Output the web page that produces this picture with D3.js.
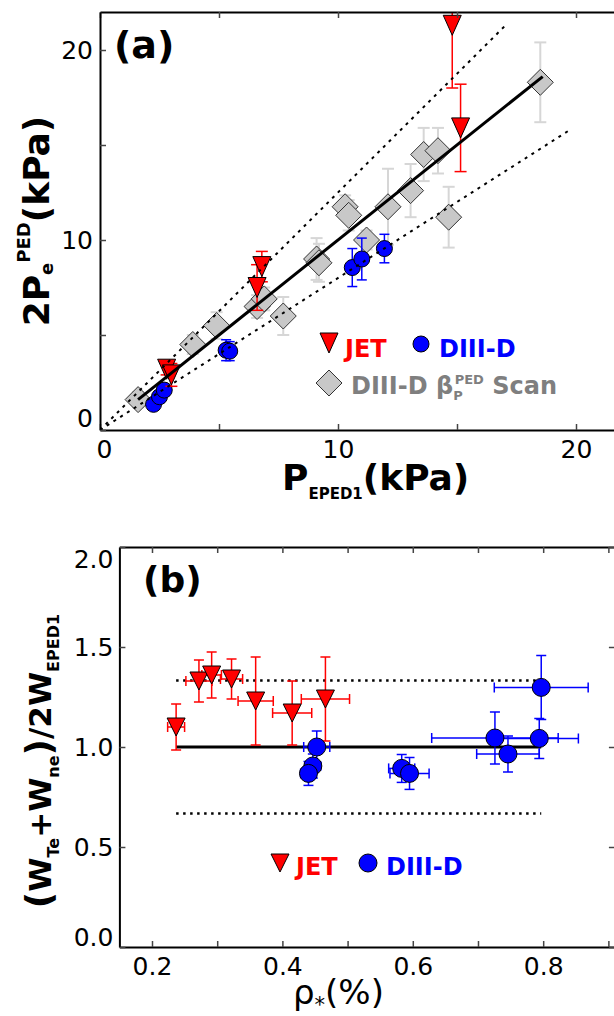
<!DOCTYPE html>
<html lang="en">
<head>
<meta charset="UTF-8">
<script src="https://d3js.org/d3.v7.min.js"></script>
<style>
  body { margin: 0; background: #fff; }
  svg { display: block; }
</style>
</head>
<body>
<div id="chart"></div>
<script>
// ---- panel (a): 2*Pe_ped vs P_EPED1 (kPa)
var jetA_x   = [14.8, 15.15, 6.8, 6.6, 2.8, 3.0];
var jetA_y   = [21.3, 15.9, 8.6, 7.5, 3.2, 2.9];
var jetA_err = [3.3, 2.3, 0.8, 1.2, 0.3, 0.6];

var d3dA_x   = [2.25, 2.5, 2.7, 5.3, 5.45, 10.6, 11.0, 11.95];
var d3dA_y   = [1.35, 1.75, 2.1, 4.2, 4.15, 8.55, 9.0, 9.55];
var d3dA_err = [0.2, 0.3, 0.3, 0.55, 0.5, 1.0, 1.1, 0.75];

var scanA_x   = [1.6, 3.9, 4.9, 6.6, 6.9, 7.7, 9.1, 9.2, 10.3, 10.45, 11.2, 12.1, 13.05, 13.6, 14.2, 14.65, 18.5];
var scanA_y   = [1.6, 4.5, 5.5, 6.5, 6.9, 6.0, 9.0, 8.8, 11.75, 11.3, 10.0, 11.75, 12.6, 14.5, 14.7, 11.2, 18.3];
var scanA_err = [0.4, 0.5, 0.7, 0.6, 0.6, 1.0, 1.1, 1.0, 0.6, 0.8, 0.5, 2.0, 1.4, 1.4, 1.2, 1.6, 2.1];

var fitA_x   = [1.6, 18.6],  fitA_y   = [1.6, 18.6];
var upperA_x = [0, 17],      upperA_y = [0, 21.25];
var lowerA_x = [0, 19.8],    lowerA_y = [0, 15.84];

var ticksA  = [0, 5, 10, 15, 20];

// ---- panel (b): pedestal width ratio vs rho*
var jetB_x    = [0.237, 0.272, 0.2915, 0.322, 0.359, 0.415, 0.466];
var jetB_y    = [1.10, 1.33, 1.36, 1.34, 1.23, 1.17, 1.24];
var jetB_xerr = [0.013, 0.02, 0.015, 0.017, 0.027, 0.03, 0.037];
var jetB_yerr = [0.115, 0.105, 0.115, 0.1, 0.22, 0.16, 0.21];

var d3dB_x    = [0.4527, 0.4467, 0.440, 0.583, 0.595, 0.726, 0.746, 0.794, 0.797];
var d3dB_y    = [1.0, 0.905, 0.868, 0.893, 0.868, 1.045, 0.965, 1.043, 1.298];
var d3dB_xerr = [0.02, 0.012, 0.012, 0.02, 0.03, 0.097, 0.048, 0.06, 0.072];
var d3dB_yerr = [0.08, 0.06, 0.06, 0.07, 0.08, 0.13, 0.09, 0.1, 0.16];

var refB_x     = [0.237, 0.797];
var refB_solid = 1.0;
var refB_dots  = [1.333, 0.667];

var ticksBx = [0.2, 0.3, 0.4, 0.5, 0.6, 0.7, 0.8, 0.9];
var ticksBy = [0.0, 0.5, 1.0, 1.5, 2.0];

var RED = "#ff0000", BLUE = "#0000ff", GREY = "#c8c8c8";
var FONT = "DejaVu Sans";

var svg = d3.select("#chart").append("svg")
  .attr("width", 614).attr("height", 1016);

var xA = d3.scaleLinear().domain([0, 22]).range([100, 623.6]);
var yA = d3.scaleLinear().domain([0, 22]).range([430, 12]);
var xB = d3.scaleLinear().domain([0.15, 0.91]).range([119.4, 614.9]);
var yB = d3.scaleLinear().domain([0, 2]).range([947, 547]);

function pts(xs, ys, e1, e2) {
  return xs.map(function(x, i) { return {x: x, y: ys[i], ex: e2 ? e1[i] : 0, ey: e2 ? e2[i] : e1[i]}; });
}

function clipped(id, x, y) {
  svg.append("clipPath").attr("id", id).append("rect")
    .attr("x", x.range()[0]).attr("y", y.range()[1])
    .attr("width", x.range()[1] - x.range()[0]).attr("height", y.range()[0] - y.range()[1]);
  return svg.append("g").attr("clip-path", "url(#" + id + ")");
}

function errBars(g, data, x, y, color, width, cap) {
  data.forEach(function(d) {
    g.append("line").attr("x1", x(d.x)).attr("x2", x(d.x))
      .attr("y1", y(d.y - d.ey)).attr("y2", y(d.y + d.ey))
      .attr("stroke", color).attr("stroke-width", width);
    [d.y - d.ey, d.y + d.ey].forEach(function(v) {
      g.append("line").attr("x1", x(d.x) - cap).attr("x2", x(d.x) + cap)
        .attr("y1", y(v)).attr("y2", y(v)).attr("stroke", color).attr("stroke-width", width);
    });
    if (d.ex) {
      g.append("line").attr("x1", x(d.x - d.ex)).attr("x2", x(d.x + d.ex))
        .attr("y1", y(d.y)).attr("y2", y(d.y))
        .attr("stroke", color).attr("stroke-width", width);
      [d.x - d.ex, d.x + d.ex].forEach(function(v) {
        g.append("line").attr("x1", x(v)).attr("x2", x(v))
          .attr("y1", y(d.y) - cap).attr("y2", y(d.y) + cap).attr("stroke", color).attr("stroke-width", width);
      });
    }
  });
}

function triPath(cx, cy, w, h) {
  return "M" + (cx - w) + "," + (cy - h) + "L" + (cx + w) + "," + (cy - h) + "L" + cx + "," + (cy + h) + "Z";
}
function diaPath(cx, cy, s) {
  return "M" + cx + "," + (cy - s) + "L" + (cx + s) + "," + cy + "L" + cx + "," + (cy + s) + "L" + (cx - s) + "," + cy + "Z";
}

function triangles(g, data, x, y, w, h) {
  g.selectAll(null).data(data).enter().append("path")
    .attr("d", function(d) { return triPath(x(d.x), y(d.y), w, h); })
    .attr("fill", RED).attr("stroke", "#000").attr("stroke-width", 1);
}
function circles(g, data, x, y, r) {
  g.selectAll(null).data(data).enter().append("circle")
    .attr("cx", function(d) { return x(d.x); }).attr("cy", function(d) { return y(d.y); })
    .attr("r", r).attr("fill", BLUE).attr("stroke", "#000").attr("stroke-width", 1);
}

function frame(x, y, xt, yt, xfmt, yfmt, ypad) {
  var g = svg.append("g");
  var x0 = x.range()[0], x1 = x.range()[1], yb = y.range()[0], yt0 = y.range()[1];
  g.append("g").attr("class", "xb").attr("transform", "translate(0," + yb + ")")
    .call(d3.axisBottom(x).tickValues(xt).tickFormat(xfmt).tickSizeInner(-6).tickSizeOuter(0).tickPadding(10));
  g.append("g").attr("transform", "translate(0," + yt0 + ")")
    .call(d3.axisTop(x).tickValues(xt).tickFormat("").tickSizeInner(-6).tickSizeOuter(0));
  g.append("g").attr("class", "yl").attr("transform", "translate(" + x0 + ",0)")
    .call(d3.axisLeft(y).tickValues(yt).tickFormat(yfmt).tickSizeInner(-6).tickSizeOuter(0).tickPadding(ypad));
  g.append("g").attr("transform", "translate(" + x1 + ",0)")
    .call(d3.axisRight(y).tickValues(yt).tickFormat("").tickSizeInner(-6).tickSizeOuter(0));
  g.selectAll(".domain").attr("stroke", "#000").attr("stroke-width", 2);
  g.selectAll(".tick line").attr("stroke", "#444").attr("stroke-width", 1.5);
  g.selectAll("text").attr("font-family", FONT).attr("font-size", 25).attr("fill", "#000");
  return g;
}

function label(x, y, size, weight, color, parts, rotate) {
  var t = svg.append("text")
    .attr("transform", "translate(" + x + "," + y + ")" + (rotate ? " rotate(-90)" : ""))
    .attr("text-anchor", rotate ? "middle" : "start")
    .attr("font-family", FONT).attr("font-weight", weight)
    .attr("font-size", size).attr("fill", color);
  parts.forEach(function(p) {
    var s = t.append("tspan").text(p[0]);
    if (p[1]) s.attr("font-size", p[1]);
    if (p[2]) s.attr("dy", p[2]);
    if (p[3]) s.attr("dx", p[3]);
  });
  return t;
}

// ================= panel (a) =================
var ga = clipped("clipA", xA, yA);
var scanA = pts(scanA_x, scanA_y, scanA_err);
var d3dA = pts(d3dA_x, d3dA_y, d3dA_err);
var jetA = pts(jetA_x, jetA_y, jetA_err);

errBars(ga, scanA, xA, yA, "#d6d6d6", 2, 6);
ga.selectAll(null).data(scanA).enter().append("path")
  .attr("d", function(d) { return diaPath(xA(d.x), yA(d.y), 13); })
  .attr("fill", GREY).attr("stroke", "#333").attr("stroke-width", 1);
errBars(ga, d3dA, xA, yA, BLUE, 1.5, 5);
circles(ga, d3dA, xA, yA, 8);
errBars(ga, jetA, xA, yA, RED, 1.5, 6);
triangles(ga, jetA, xA, yA, 9, 10);

var lineA = d3.line().x(function(d) { return xA(d[0]); }).y(function(d) { return yA(d[1]); });
[[upperA_x, upperA_y], [lowerA_x, lowerA_y]].forEach(function(l) {
  ga.append("path").attr("d", lineA(d3.zip(l[0], l[1])))
    .attr("fill", "none").attr("stroke", "#000").attr("stroke-width", 2).attr("stroke-dasharray", "3,5");
});
ga.append("path").attr("d", lineA(d3.zip(fitA_x, fitA_y)))
  .attr("fill", "none").attr("stroke", "#000").attr("stroke-width", 3);

var fa = frame(xA, yA, ticksA, ticksA,
  function(d) { return d % 10 === 0 ? d : ""; },
  function(d) { return d % 10 === 0 ? d : ""; }, 7);
fa.select(".yl").selectAll(".tick text").filter(function(d) { return d === 0; }).attr("y", -12);
fa.select(".xb").selectAll(".tick text").filter(function(d) { return d === 0; }).attr("x", 4);

// legend (a)
svg.append("path").attr("d", triPath(329, 343, 9, 10)).attr("fill", RED).attr("stroke", "#000");
label(345, 357, 24, "bold", RED, [["JET"]]);
svg.append("circle").attr("cx", 421).attr("cy", 344).attr("r", 8).attr("fill", BLUE).attr("stroke", "#000");
label(439, 357, 24, "bold", BLUE, [["DIII-D"]]);
svg.append("path").attr("d", diaPath(329, 383, 13)).attr("fill", GREY).attr("stroke", "#333");
label(351, 394, 24, "bold", "#7f7f7f", [["DIII-D β"], ["P", 13, 6], ["PED", 13, -16, -8], [" Scan", null, 10]]);

label(114, 58, 38, "bold", "#000", [["(a)"]]);
label(49, 221, 36, "bold", "#000", [["2P"], ["e", 18, 4], ["PED", 18, -23], ["(kPa)", null, 19]], true);
label(282, 490, 36, "bold", "#000", [["P"], ["EPED1", 15, 9], ["(kPa)", 36, -9]]);

// ================= panel (b) =================
var gb = clipped("clipB", xB, yB);
refB_dots.forEach(function(v) {
  gb.append("line").attr("x1", xB(refB_x[0])).attr("x2", xB(refB_x[1]))
    .attr("y1", yB(v)).attr("y2", yB(v))
    .attr("stroke", "#000").attr("stroke-width", 2.5).attr("stroke-dasharray", "2.5,4.5");
});
gb.append("line").attr("x1", xB(refB_x[0])).attr("x2", xB(refB_x[1]))
  .attr("y1", yB(refB_solid)).attr("y2", yB(refB_solid))
  .attr("stroke", "#000").attr("stroke-width", 3);

var jetB = pts(jetB_x, jetB_y, jetB_xerr, jetB_yerr);
var d3dB = pts(d3dB_x, d3dB_y, d3dB_xerr, d3dB_yerr);
errBars(gb, jetB, xB, yB, RED, 1.5, 5);
triangles(gb, jetB, xB, yB, 9, 9);
errBars(gb, d3dB, xB, yB, BLUE, 1.5, 5);
circles(gb, d3dB, xB, yB, 9);

var fb = frame(xB, yB, ticksBx, ticksBy,
  function(d) { return Math.round(d * 10) % 2 === 0 ? d3.format(".1f")(d) : ""; },
  d3.format(".1f"), 6);
fb.select(".yl").selectAll(".tick text").attr("y", function(d) { return d === 0 ? -10 : (d === 2 ? 12 : 0); });

// legend (b)
svg.append("path").attr("d", triPath(280, 863, 9, 9)).attr("fill", RED).attr("stroke", "#000");
label(296, 875, 24, "bold", RED, [["JET"]]);
svg.append("circle").attr("cx", 368).attr("cy", 863).attr("r", 9).attr("fill", BLUE).attr("stroke", "#000");
label(386, 875, 24, "bold", BLUE, [["DIII-D"]]);

label(143, 592, 36, "bold", "#000", [["(b)"]]);
label(51, 761, 31, "bold", "#000",
  [["(", 36], ["W", 31], ["Te", 16, 8], ["+W", 31, -8], ["ne", 16, 8], [")", 36, -8], ["/2W", 31], ["EPED1", 16, 8]], true);
label(293, 1004, 34, "normal", "#000", [["ρ"], ["*", 21, 8], ["(%)", 34, -8]]);
</script>
</body>
</html>
